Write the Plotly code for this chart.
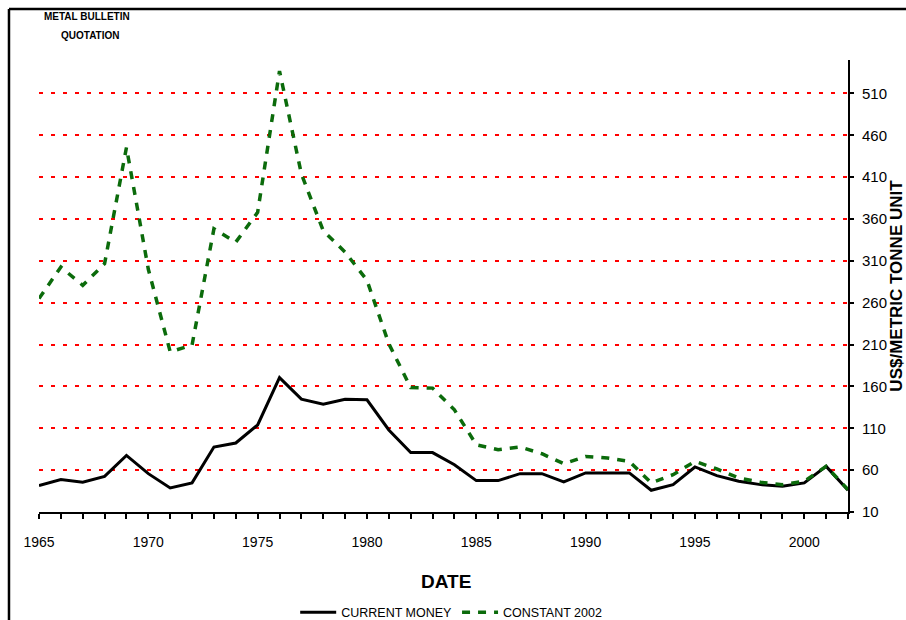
import plotly.graph_objs as go

# data
years = list(range(1965, 2003))

current_money = [41.5, 48.7, 45.5, 52.6, 77.6, 55.8, 38.8, 44.8, 87.6, 92.4,
                 114, 170.5, 144.8, 138.8, 144.8, 144, 108, 81, 81, 66.5,
                 47.5, 47.5, 55.8, 55.8, 46, 56.7, 56.7, 56.7, 36, 42.7,
                 63.8, 53.5, 46.7, 42.7, 40.7, 44.8, 64.5, 36]

constant_2002 = [265, 302.6, 280.8, 306.7, 445.5, 300, 201.4, 209.4, 348.3, 332.4,
                 368, 536.8, 413.8, 346, 320.5, 286.8, 211, 158.6, 158, 132,
                 90.4, 84.4, 87.6, 79.6, 67.7, 76.4, 74.5, 70.5, 44.8, 54.6,
                 70.5, 61.4, 50.7, 45.5, 42.7, 46.7, 64.5, 36.8]

y_ticks = [10, 60, 110, 160, 210, 260, 310, 360, 410, 460, 510]
x_ticks = [1965, 1970, 1975, 1980, 1985, 1990, 1995, 2000]

FONT = "Liberation Sans Narrow, Arial Narrow, Liberation Sans, Arial"

trace0 = go.Scatter(
    x=years, y=current_money,
    mode='lines', name='CURRENT MONEY',
    line=dict(color='black', width=3))

trace1 = go.Scatter(
    x=years, y=constant_2002,
    mode='lines', name='CONSTANT 2002',
    line=dict(color='#0b6b0b', width=3.5, dash='8px,8px'))

layout = go.Layout(
    width=906, height=620,
    margin=dict(l=39, r=58, t=60, b=107.5, autoexpand=False),
    paper_bgcolor='white', plot_bgcolor='white',
    font=dict(family=FONT, color='black', size=12),
    showlegend=True,
    legend=dict(orientation='h', xref='container', yref='container',
                x=0.498, xanchor='center', y=0.012, yanchor='middle',
                font=dict(size=12.5), itemwidth=36, bgcolor='rgba(0,0,0,0)'),
    xaxis=dict(range=[1965, 2002], tickvals=x_ticks, ticktext=[str(v) for v in x_ticks],
               showgrid=False, zeroline=False, showline=True, linecolor='black', linewidth=2,
               ticks='outside', ticklen=5, tickwidth=1.5, tickcolor='black',
               minor=dict(dtick=1, ticks='outside', ticklen=5, tickwidth=1.5, tickcolor='black'),
               tickfont=dict(size=14), ticklabelstandoff=11, automargin=False, fixedrange=True),
    yaxis=dict(range=[10, 550], side='right', tickvals=y_ticks,
               showgrid=True, gridcolor='red', gridwidth=1.5, griddash='4px,8px',
               zeroline=False, showline=True, linecolor='black', linewidth=2,
               ticks='outside', ticklen=4, tickwidth=1.5, tickcolor='black',
               tickfont=dict(size=15), ticklabelstandoff=5, automargin=False, fixedrange=True,
               title=dict(text='<b>US$/METRIC TONNE UNIT</b>', font=dict(size=17, family="Liberation Sans, Arial"),
                          standoff=0)),
    annotations=[
        dict(text='<b>METAL BULLETIN</b>', x=0.059, y=1.097, xref='paper', yref='paper',
             xanchor='center', yanchor='middle', showarrow=False, font=dict(size=10)),
        dict(text='<b>QUOTATION</b>', x=0.064, y=1.055, xref='paper', yref='paper',
             xanchor='center', yanchor='middle', showarrow=False, font=dict(size=10)),
        dict(text='<b>DATE</b>', x=0.503, y=-0.153, xref='paper', yref='paper',
             xanchor='center', yanchor='middle', showarrow=False, font=dict(size=19)),
    ],
    shapes=[
        dict(type='line', xref='paper', yref='paper', x0=-0.0371, x1=1.08, y0=1.1127, y1=1.1127,
             line=dict(color='black', width=2.5)),
        dict(type='line', xref='paper', yref='paper', x0=-0.0371, x1=-0.0371, y0=1.1127, y1=-0.25,
             line=dict(color='black', width=2.5)),
    ],
)

fig = go.Figure(data=[trace0, trace1], layout=layout)
fig.write_html("out.html", config={'displayModeBar': False},
               post_script="document.body.style.margin='0';")
